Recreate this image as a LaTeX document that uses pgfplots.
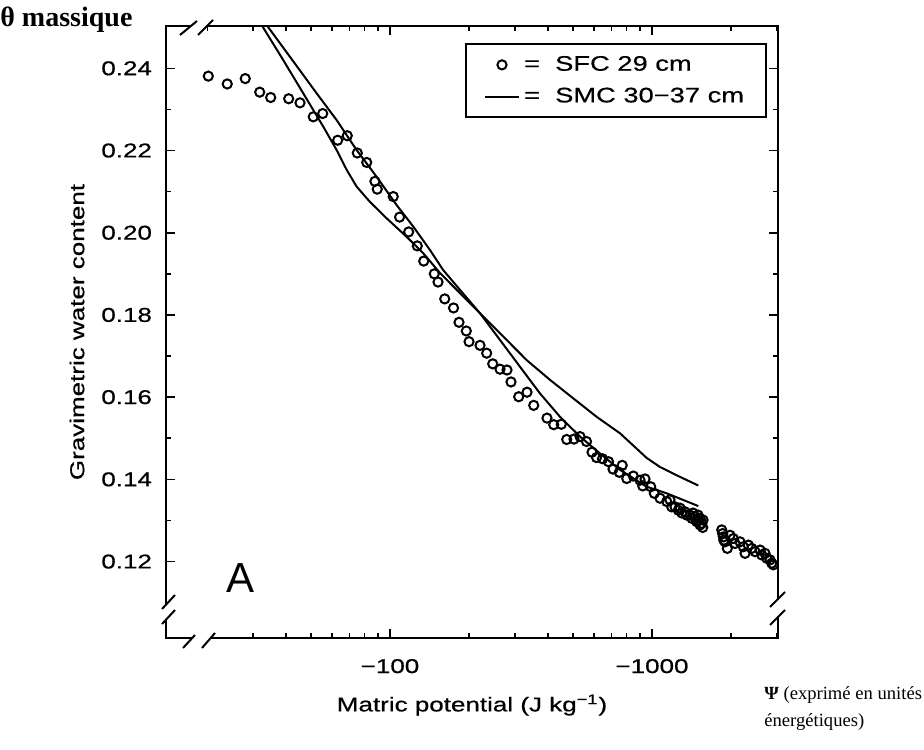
\documentclass[border=0pt]{standalone}
\usepackage{pgfplots}
\pgfplotsset{compat=1.18}
\usepackage{fontspec}
\setmainfont{Liberation Sans}[FakeStretch=1.3,FakeBold=0.6]
\newfontfamily\plainsans{Liberation Sans}
\newfontfamily\serif{Liberation Serif}

\pgfplotstableread{
x y
20.26 0.2381
23.93 0.2362
28.03 0.2375
31.83 0.2342
35.05 0.2329
41.05 0.2326
45.35 0.2316
50.96 0.2282
55.37 0.2290
63.15 0.2225
68.71 0.2236
75.04 0.2194
81.5 0.2171
87.6 0.2125
89.4 0.2106
102.9 0.2088
108.8 0.2038
117.8 0.2002
127.1 0.1968
134.5 0.1931
147.6 0.1900
152.5 0.1880
161.8 0.1839
174.8 0.1817
183.4 0.1782
195.6 0.1761
200.3 0.1735
220.6 0.1726
233.9 0.1707
246.6 0.1681
263.0 0.1668
279.6 0.1666
289.6 0.1637
309.9 0.1601
333.4 0.1612
353.6 0.1580
397.4 0.1549
421.5 0.1533
450.6 0.1534
472.5 0.1497
503.9 0.1498
531.2 0.1504
562.3 0.1492
590.2 0.1466
614.1 0.1453
647.3 0.1450
682.3 0.1443
709.8 0.1425
769.6 0.1434
750.2 0.1417
800.8 0.1402
848.6 0.1408
900 0.1398
940.4 0.1401
921.5 0.1384
988.6 0.1382
1020 0.1366
1073 0.1354
1138 0.1346
1171 0.1350
1189 0.1333
1224 0.1333
1260 0.1325
1279 0.1330
1300 0.1318
1337 0.1321
1357 0.1313
1396 0.1313
1420 0.1305
1434 0.1318
1459 0.1309
1498 0.1313
1500 0.1300
1525 0.1305
1481 0.1297
1566 0.1301
1525 0.1289
1548 0.1293
1562 0.1283
1845 0.1277
1860 0.1268
1872 0.1260
1880 0.1252
1900 0.1248
1938 0.1232
1985 0.1264
2044 0.1256
2074 0.1244
2167 0.1248
2231 0.1236
2265 0.1220
2331 0.1240
2402 0.1232
2473 0.1224
2584 0.1228
2623 0.1216
2700 0.1220
2741 0.1208
2821 0.1204
2864 0.1196
2904 0.1192
}\sfc

\pgfplotstableread{
x y
32.39 0.2505
39.15 0.2420
46.68 0.2339
55.66 0.2258
62.6 0.2201
68.35 0.2153
74.64 0.2112
83.88 0.2075
97.14 0.2035
115.8 0.1990
134.0 0.1950
155.2 0.1902
185.0 0.1853
227.0 0.1796
278.9 0.1739
332.5 0.1690
408.1 0.1642
500.7 0.1597
615.1 0.1552
755 0.1512
954.5 0.1452
1073 0.1430
1279 0.1406
1502 0.1385
}\smcA

\pgfplotstableread{
x y
33.85 0.2505
41.52 0.2428
52.52 0.2339
62.6 0.2274
74.64 0.2201
88.96 0.2136
106.1 0.2067
122.7 0.2015
142.1 0.1958
159.7 0.1909
185.0 0.1861
220.6 0.1804
263.0 0.1739
313.4 0.1674
373.7 0.1609
445.6 0.1552
531.2 0.1504
633.3 0.1463
755 0.1423
954.5 0.1382
1138 0.1366
1502 0.1335
}\smcB

\begin{document}
\begin{tikzpicture}
\path[use as bounding box] (-83pt,-55.5pt) rectangle (379pt,319pt);
\begin{axis}[
  scale only axis, width=306pt, height=306pt,
  at={(0pt,0pt)}, anchor=south west,
  xmode=log, xmin=13.97, xmax=3026, ymin=0.1014, ymax=0.2503,
  xtick={100,1000}, xticklabels={−100,−1000},
  minor xtick={20,30,40,50,60,70,80,90,200,300,400,500,600,700,800,900,2000,3000},
  ytick={0.12,0.14,0.16,0.18,0.20,0.22,0.24},
  minor ytick={0.13,0.15,0.17,0.19,0.21,0.23},
  /pgf/number format/assume math mode=true,
  yticklabel style={/pgf/number format/fixed, /pgf/number format/fixed zerofill, /pgf/number format/precision=2, xshift=-3.5pt},
  xticklabel style={yshift=-7pt},
  tick label style={font=\fontsize{10}{12}\selectfont},
  label style={font=\fontsize{10}{12}\selectfont},
  tick align=inside, major tick length=4.5pt, minor tick length=2.5pt,
  tick style={black, line width=0.8pt},
  axis line style={line width=1.1pt},
  xlabel={Matric potential (J kg\textsuperscript{−1})},
  ylabel={Gravimetric water content},
  xlabel style={at={(axis description cs:0.5,-0.1095)}, anchor=center},
  ylabel style={at={(axis description cs:-0.1454,0.5)}, anchor=center},
  legend style={at={(axis description cs:0.982,0.972)}, anchor=north east, draw=black, line width=0.9pt, font=\fontsize{10.5}{12.5}\selectfont, inner xsep=9pt, inner ysep=4pt, row sep=3pt, cells={anchor=west}},
]
\addplot[only marks, mark=o, mark size=2.3pt, mark options={line width=1pt, black}] table[x=x,y=y] {\sfc};
\addlegendentry{= \ SFC 29 cm}
\addplot[black, line width=1pt, mark=none] table[x=x,y=y] {\smcA};
\addlegendentry{= \ SMC 30−37 cm}
\addplot[black, line width=1pt, mark=none, forget plot] table[x=x,y=y] {\smcB};
\node[font=\plainsans\fontsize{21}{24}\selectfont] at (axis cs:26.8,0.1160) {A};
\end{axis}
% axis breaks
\fill[white] (12.5pt,303pt) rectangle (20.5pt,309pt);
\draw[line width=1pt] (7pt,301.5pt) -- (15.5pt,308.5pt);
\draw[line width=1pt] (16pt,301.5pt) -- (23.5pt,309pt);
\fill[white] (-3pt,9.15pt) rectangle (4pt,16.65pt);
\draw[line width=1pt] (-2pt,14.5pt) -- (4.5pt,21.5pt);
\draw[line width=1pt] (-2pt,7pt) -- (4.5pt,14pt);
\fill[white] (13pt,-3pt) rectangle (22pt,4pt);
\draw[line width=1pt] (8.5pt,-5pt) -- (14.5pt,1.5pt);
\draw[line width=1pt] (18pt,-5pt) -- (24.5pt,2.5pt);
\fill[white] (302pt,10.5pt) rectangle (310pt,19.5pt);
\draw[line width=1pt] (302pt,15.5pt) -- (309.5pt,23pt);
\draw[line width=1pt] (302pt,6.5pt) -- (309.5pt,14pt);
% annotations
\node[anchor=base west, font=\serif\bfseries\fontsize{14}{16}\selectfont, inner sep=0pt] at (-83pt,305.5pt) {θ massique};
\node[anchor=base west, font=\serif\fontsize{9.3}{11}\selectfont, inner sep=0pt] at (299pt,-30.5pt) {\textbf{Ψ} (exprimé en unités};
\node[anchor=base west, font=\serif\fontsize{9.3}{11}\selectfont, inner sep=0pt] at (299pt,-44pt) {énergétiques)};
\end{tikzpicture}
\end{document}
